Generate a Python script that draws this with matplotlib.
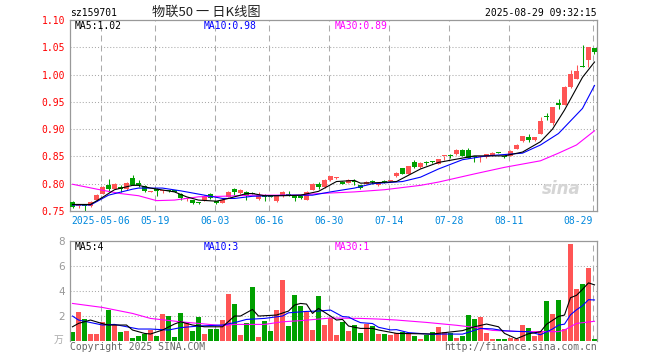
import numpy as np
import matplotlib
matplotlib.use("Agg")
import matplotlib.pyplot as plt

W, H = 660, 360

# daily candles, bar 0 .. 87 (2025-04-24 .. 2025-08-29)
opens = [0.767, 0.759, 0.760, 0.759, 0.770, 0.782, 0.797, 0.791, 0.794, 0.790,
         0.811, 0.801, 0.796, 0.785, 0.791, 0.786, 0.787, 0.788, 0.782, 0.772,
         0.770, 0.765, 0.770, 0.782, 0.768, 0.765, 0.776, 0.791, 0.783, 0.785,
         0.783, 0.772, 0.779, 0.777, 0.768, 0.777, 0.780, 0.779, 0.778, 0.771,
         0.789, 0.800, 0.794, 0.806, 0.810, 0.804, 0.802, 0.804, 0.797, 0.800,
         0.804, 0.797, 0.805, 0.8055, 0.814, 0.828, 0.818, 0.839, 0.830, 0.839,
         0.840, 0.837, 0.850, 0.852, 0.854, 0.862, 0.861, 0.850, 0.8495, 0.849,
         0.851, 0.858, 0.850, 0.851, 0.864, 0.878, 0.885, 0.880, 0.892, 0.923,
         0.912, 0.947, 0.945, 0.977, 0.992, 1.015, 1.026, 1.048]
highs = [0.768, 0.762, 0.761, 0.768, 0.781, 0.795, 0.809, 0.801, 0.797, 0.803,
         0.816, 0.806, 0.797, 0.786, 0.792, 0.789, 0.788, 0.789, 0.783, 0.774,
         0.771, 0.767, 0.779, 0.783, 0.769, 0.772, 0.786, 0.792, 0.790, 0.786,
         0.784, 0.785, 0.782, 0.778, 0.778, 0.786, 0.787, 0.780, 0.779, 0.786,
         0.801, 0.804, 0.809, 0.815, 0.812, 0.805, 0.808, 0.809, 0.798, 0.805,
         0.806, 0.803, 0.806, 0.807, 0.821, 0.829, 0.833, 0.843, 0.839, 0.841,
         0.841, 0.846, 0.851, 0.854, 0.863, 0.863, 0.865, 0.851, 0.851, 0.855,
         0.858, 0.859, 0.851, 0.861, 0.872, 0.888, 0.892, 0.886, 0.923, 0.929,
         0.941, 0.956, 0.979, 1.009, 1.017, 1.054, 1.051, 1.049]
lows = [0.756, 0.756, 0.750, 0.758, 0.769, 0.781, 0.785, 0.790, 0.785, 0.789,
        0.797, 0.794, 0.784, 0.784, 0.778, 0.783, 0.785, 0.784, 0.771, 0.769,
        0.763, 0.762, 0.769, 0.772, 0.763, 0.764, 0.775, 0.779, 0.782, 0.770,
        0.781, 0.771, 0.768, 0.775, 0.767, 0.776, 0.778, 0.769, 0.772, 0.770,
        0.788, 0.790, 0.793, 0.805, 0.809, 0.799, 0.801, 0.797, 0.791, 0.799,
        0.800, 0.795, 0.802, 0.805, 0.813, 0.817, 0.817, 0.829, 0.829, 0.835,
        0.838, 0.836, 0.843, 0.848, 0.853, 0.850, 0.847, 0.839, 0.840, 0.848,
        0.850, 0.856, 0.847, 0.850, 0.863, 0.877, 0.877, 0.879, 0.891, 0.916,
        0.907, 0.936, 0.944, 0.976, 0.991, 1.013, 1.014, 1.038]
closes = [0.758, 0.760, 0.759, 0.767, 0.780, 0.794, 0.791, 0.800, 0.790, 0.802,
          0.798, 0.798, 0.786, 0.7855, 0.786, 0.787, 0.786, 0.785, 0.773, 0.773,
          0.764, 0.764, 0.778, 0.773, 0.764, 0.771, 0.785, 0.785, 0.789, 0.777,
          0.782, 0.780, 0.776, 0.776, 0.777, 0.785, 0.779, 0.773, 0.773, 0.785,
          0.800, 0.794, 0.806, 0.814, 0.811, 0.800, 0.807, 0.803, 0.792, 0.804,
          0.803, 0.802, 0.804, 0.806, 0.820, 0.818, 0.832, 0.830, 0.838, 0.838,
          0.839, 0.845, 0.8505, 0.851, 0.862, 0.851, 0.848, 0.849, 0.850, 0.854,
          0.857, 0.857, 0.849, 0.860, 0.871, 0.887, 0.880, 0.885, 0.915, 0.922,
          0.940, 0.944, 0.978, 1.001, 1.007, 1.014, 1.050, 1.041]
volumes = [0.65, 2.28, 1.72, 0.52, 0.52, 1.48, 2.41, 1.24, 0.68, 0.76,
           0.20, 0.36, 0.52, 0.84, 0.36, 2.12, 1.93, 0.28, 2.20, 1.40,
           0.76, 1.88, 0.52, 0.92, 0.92, 1.64, 3.72, 2.92, 0.44, 1.40,
           4.28, 0.28, 1.58, 0.76, 2.44, 4.84, 1.16, 3.64, 2.77, 2.29,
           0.84, 3.56, 1.24, 1.80, 0.45, 1.47, 0.76, 1.24, 0.60, 1.36,
           1.16, 0.52, 0.52, 0.44, 0.60, 0.68, 0.52, 0.36, 0.13, 0.44,
           0.68, 1.08, 0.68, 0.60, 0.20, 0.38, 2.04, 1.72, 1.90, 0.60,
           0.12, 0.12, 0.12, 0.20, 0.12, 1.24, 1.00, 0.36, 0.76, 3.16,
           2.12, 3.24, 0.92, 7.72, 4.12, 4.52, 5.80, 0.12]

# moving average lines (bar index, value)
ma5_idx = [0, 3, 5, 7, 10, 11, 13, 17, 19, 21, 24, 26, 29, 30, 32, 35, 38, 41, 44,
           47, 48, 51, 54, 58, 61, 64, 67, 72, 75, 78, 80, 82, 84, 85, 87]
ma5_val = [0.762, 0.762, 0.775, 0.789, 0.797, 0.797, 0.792, 0.785, 0.776, 0.770,
           0.768, 0.773, 0.782, 0.782, 0.778, 0.778, 0.779, 0.786, 0.804, 0.806,
           0.801, 0.802, 0.804, 0.827, 0.839, 0.845, 0.851, 0.851, 0.858, 0.877,
           0.900, 0.935, 0.975, 0.995, 1.023]
ma10_idx = [0, 3, 6, 10, 11, 15, 18, 22, 24, 25, 27, 30, 36, 40, 43, 47, 50, 55,
            58, 61, 65, 69, 75, 78, 81, 85, 87]
ma10_val = [0.761, 0.761, 0.779, 0.790, 0.792, 0.792, 0.787, 0.779, 0.775, 0.773,
            0.773, 0.777, 0.779, 0.779, 0.785, 0.792, 0.800, 0.804, 0.812, 0.827,
            0.844, 0.851, 0.856, 0.871, 0.892, 0.938, 0.980]
ma30_idx = [0, 5, 8, 11, 14, 17, 21, 25, 30, 38, 41, 47, 52, 58, 61, 67, 72, 78,
            81, 84, 87]
ma30_val = [0.799, 0.788, 0.782, 0.778, 0.769, 0.770, 0.776, 0.777, 0.779, 0.779,
            0.782, 0.785, 0.789, 0.797, 0.803, 0.818, 0.830, 0.842, 0.856, 0.871,
            0.897]

vma5_idx = [0, 1, 3, 5, 6, 9, 10, 12, 13, 15, 17, 18, 20, 22, 25, 27, 28, 30, 31,
            34, 36, 37, 38, 39, 40, 41, 43, 44, 45, 46, 48, 50, 51, 54, 60, 62, 65,
            67, 69, 71, 72, 74, 76, 78, 79, 81, 82, 83, 84, 85, 86, 87]
vma5_val = [1.10, 1.37, 1.64, 1.35, 1.24, 1.24, 0.84, 0.57, 0.52, 0.84, 1.32, 1.50,
            1.24, 1.10, 1.10, 1.96, 1.96, 2.49, 1.96, 2.04, 2.36, 2.84, 2.97, 2.92,
            2.17, 2.57, 1.96, 1.64, 1.69, 1.16, 0.97, 0.97, 0.84, 0.57, 0.52, 0.63,
            0.79, 1.10, 1.32, 1.10, 0.57, 0.14, 0.54, 0.70, 1.30, 1.93, 2.04, 3.43,
            3.62, 4.10, 4.62, 4.46]
vma10_idx = [0, 1, 5, 7, 11, 13, 16, 18, 21, 25, 27, 29, 32, 35, 36, 39, 41, 43,
             45, 46, 47, 48, 50, 51, 53, 54, 56, 60, 62, 65, 66, 68, 70, 72, 74,
             76, 78, 80, 81, 82, 83, 84, 85, 86, 87]
vma10_val = [1.96, 1.64, 1.24, 1.29, 0.92, 0.92, 0.84, 1.03, 1.16, 1.24, 1.43, 1.69,
             1.77, 1.96, 2.22, 2.33, 2.36, 2.44, 1.92, 1.88, 1.64, 1.43, 1.36, 1.06,
             0.85, 0.87, 0.63, 0.49, 0.52, 0.51, 0.66, 0.97, 0.93, 0.78, 0.73, 0.71,
             0.46, 0.92, 1.23, 1.31, 2.06, 2.46, 2.79, 3.27, 3.25]
vma30_idx = [0, 5, 10, 13, 18, 21, 25, 27, 32, 35, 38, 43, 48, 51, 54, 59, 64, 67,
             70, 75, 81, 82, 84, 87]
vma30_val = [2.97, 2.65, 2.17, 1.77, 1.50, 1.37, 1.19, 1.29, 1.29, 1.50, 1.59, 1.80,
             1.77, 1.72, 1.64, 1.45, 1.22, 1.05, 0.81, 0.71, 0.71, 0.84, 1.37, 1.54]

date_idx = [5, 14, 24, 33, 43, 53, 63, 73, 87]
date_labels = ["2025-05-06", "05-19", "06-03", "06-16", "06-30", "07-14",
               "07-28", "08-11", "08-29"]
price_ticks = [0.75, 0.80, 0.85, 0.90, 0.95, 1.00, 1.05, 1.10]
vol_ticks = [2, 4, 6, 8]

RED = "#FF5555"
GREEN = "#00A000"
GRID = "#AAAAAA"
SPINE = "#999999"

plt.rcParams['font.family'] = ['DejaVu Sans Mono', 'Noto Sans CJK SC']
plt.rcParams['lines.scale_dashes'] = False
DASH = (0, (4.3, 2.9))
DOT = (0, (0.75, 1.45))


def box(x0, y0, x1, y1):
    return [x0 / W, 1 - y1 / H, (x1 - x0) / W, (y1 - y0) / H]


def ftext(x, y, s, **kw):
    kw.setdefault('va', 'center')
    kw.setdefault('fontsize', 7)
    fig.text(x / W, 1 - y / H, s, **kw)


fig = plt.figure(figsize=(W / 100, H / 100), dpi=100)
ax = fig.add_axes(box(70, 20, 597, 211))
axv = fig.add_axes(box(70, 240.7, 597, 340.5))

x = np.arange(len(closes))
o = np.array(opens)
c = np.array(closes)
colors = np.where(c >= o, RED, GREEN)
bw = 5 / 6

for a in (ax, axv):
    a.set_xlim(-bw / 2, x[-1] + bw / 2)
    for gx in date_idx:
        a.axvline(gx - 0.3, color=GRID, lw=0.75, ls=DASH, zorder=0)
    for side in ('left', 'right', 'top', 'bottom'):
        a.spines[side].set_color(SPINE)
        a.spines[side].set_linewidth(0.9)
axv.spines['bottom'].set_visible(False)

# price panel
for v in price_ticks[1:-1]:
    ax.axhline(v, color=GRID, lw=0.75, ls=DOT, zorder=0)
ax.vlines(x, lows, highs, colors=colors, lw=0.75, zorder=2)
ax.bar(x, np.maximum(np.abs(c - o), 0.0018), bottom=np.minimum(o, c), width=bw,
       color=colors, linewidth=0, zorder=3)
ax.plot(ma30_idx, ma30_val, color="#FF00FF", lw=0.8, zorder=4)
ax.plot(ma10_idx, ma10_val, color="#0000FF", lw=0.8, zorder=4)
ax.plot(ma5_idx, ma5_val, color="#000000", lw=0.8, zorder=4)
ax.set_ylim(0.75, 1.10)
ax.set_yticks(price_ticks, [f"{v:.2f}" for v in price_ticks])
ax.tick_params(axis='y', length=0, pad=3.6, labelcolor='#FF0000', labelsize=7)
ax.set_xticks(np.array(date_idx) - 0.3, date_labels)
ax.tick_params(axis='x', length=0, pad=3.6, labelcolor='#0088DD', labelsize=7)
ax.get_xticklabels()[-1].set_horizontalalignment('right')
ax.text(0.968, 0.07, "sina", transform=ax.transAxes, ha='right', va='bottom',
        fontsize=12, fontweight='bold', style='italic', color='#D5D5D5',
        family='DejaVu Sans', zorder=1)

# volume panel
for v in vol_ticks[:-1]:
    axv.axhline(v, color=GRID, lw=0.75, ls=DOT, zorder=0)
axv.bar(x, volumes, width=bw, color=colors, linewidth=0, zorder=2)
axv.plot(vma30_idx, vma30_val, color="#FF00FF", lw=0.8, zorder=4)
axv.plot(vma10_idx, vma10_val, color="#0000FF", lw=0.8, zorder=4)
axv.plot(vma5_idx, vma5_val, color="#000000", lw=0.8, zorder=4)
axv.set_ylim(0, 8)
axv.set_yticks(vol_ticks, [str(v) for v in vol_ticks])
axv.tick_params(axis='y', length=0, pad=3.6, labelcolor='#999999', labelsize=7.5)
for lbl in axv.get_yticklabels():
    lbl.set_fontfamily('DejaVu Sans')
axv.set_xticks([])

# texts
ftext(70, 13, "sz159701", ha='left', color='black')
ftext(206, 12.5, "物联50 一 日K线图", ha='center', fontsize=9.5, color='#222222',
      family=['Noto Sans CJK SC', 'DejaVu Sans'])
ftext(597, 13, "2025-08-29 09:32:15", ha='right', color='black')
ftext(75, 26, "MA5:1.02", ha='left', color='#000000')
ftext(204, 26, "MA10:0.98", ha='left', color='#0000FF')
ftext(335, 26, "MA30:0.89", ha='left', color='#FF00FF')
ftext(75, 246.5, "MA5:4", ha='left', color='#000000')
ftext(204, 246.5, "MA10:3", ha='left', color='#0000FF')
ftext(335, 246.5, "MA30:1", ha='left', color='#FF00FF')
ftext(63, 340, "万", ha='right', color='#AAAAAA', family=['Noto Sans CJK SC'])
ftext(70, 347.5, "Copyright 2025 SINA.COM", ha='left', color='#666666')
ftext(597, 347.5, "http://finance.sina.com.cn", ha='right', color='#666666')

fig.savefig("out.png", dpi=100)
